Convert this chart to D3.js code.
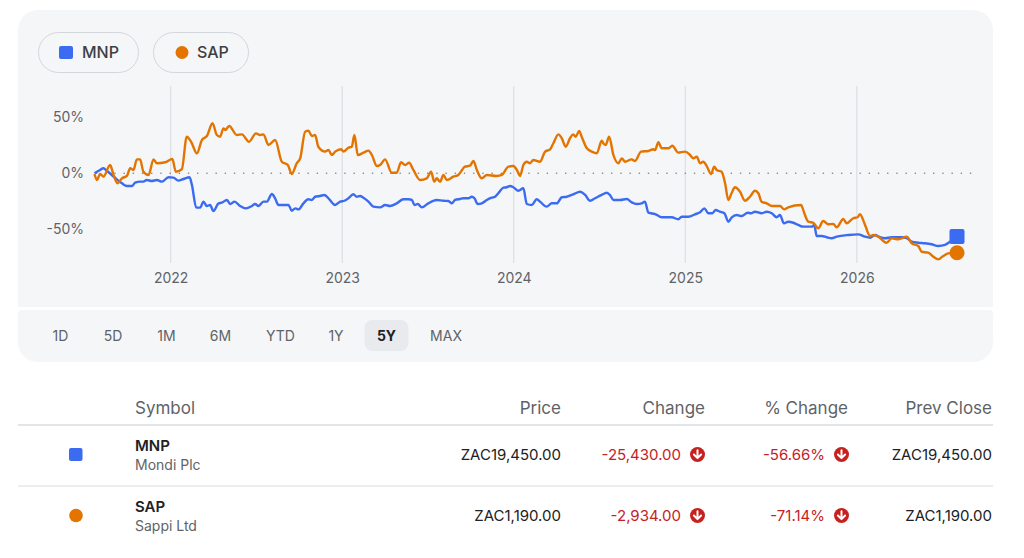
<!DOCTYPE html>
<html>
<head>
<meta charset="utf-8">
<script src="https://cdn.jsdelivr.net/npm/d3@7"></script>
<style>
  html, body { margin: 0; padding: 0; background: #fff; }
  svg { display: block; font-family: Inter, Roboto, "Noto Sans", sans-serif; }
</style>
</head>
<body>
<div id="viz"></div>
<script>
// time as decimal year, values as % change from start
var mnpTime = [2021.556,2021.589,2021.608,2021.628,2021.657,2021.686,2021.716,2021.745,2021.774,2021.793,2021.822,2021.841,2021.861,2021.890,2021.920,2021.949,2021.987,2022.016,2022.045,2022.075,2022.110,2022.124,2022.149,2022.172,2022.191,2022.211,2022.230,2022.249,2022.279,2022.298,2022.328,2022.347,2022.372,2022.405,2022.438,2022.473,2022.492,2022.512,2022.541,2022.561,2022.590,2022.609,2022.628,2022.657,2022.687,2022.706,2022.726,2022.745,2022.774,2022.803,2022.823,2022.842,2022.871,2022.896,2022.920,2022.959,2022.988,2023.013,2023.036,2023.065,2023.085,2023.104,2023.124,2023.153,2023.182,2023.221,2023.250,2023.279,2023.318,2023.357,2023.386,2023.406,2023.421,2023.441,2023.464,2023.502,2023.551,2023.590,2023.619,2023.639,2023.658,2023.687,2023.706,2023.736,2023.755,2023.771,2023.790,2023.814,2023.843,2023.872,2023.891,2023.910,2023.940,2023.959,2023.979,2023.998,2024.027,2024.056,2024.076,2024.105,2024.134,2024.153,2024.192,2024.222,2024.251,2024.280,2024.309,2024.347,2024.387,2024.416,2024.445,2024.474,2024.513,2024.542,2024.561,2024.581,2024.620,2024.659,2024.688,2024.717,2024.746,2024.765,2024.785,2024.824,2024.863,2024.921,2024.959,2024.979,2025.018,2025.057,2025.086,2025.111,2025.134,2025.158,2025.177,2025.202,2025.228,2025.251,2025.271,2025.300,2025.329,2025.364,2025.383,2025.406,2025.445,2025.475,2025.504,2025.533,2025.552,2025.575,2025.600,2025.630,2025.659,2025.688,2025.737,2025.752,2025.766,2025.795,2025.824,2025.853,2025.883,2025.950,2026.008,2026.048,2026.077,2026.106,2026.135,2026.164,2026.203,2026.261,2026.291,2026.320,2026.358,2026.397,2026.436,2026.475,2026.514,2026.543,2026.584];
var mnpPct = [0,3.0,4.5,2.3,-1.5,-5.4,-9.0,-11.4,-11.4,-8.4,-7.5,-7.5,-6.0,-6.9,-6.0,-7.5,-3.6,-3.9,-6.6,-5.1,-3.6,-10.5,-30.8,-30.8,-25.4,-29.3,-28.4,-33.8,-26.9,-26.3,-23.9,-27.5,-25.4,-29.3,-31.4,-29.3,-27.5,-29.3,-25.4,-25.4,-18.5,-22.4,-28.4,-28.4,-28.4,-33.5,-31.4,-32.3,-26.9,-23.3,-23.9,-21.0,-20.3,-19.4,-22.4,-28.4,-25.4,-24.6,-22.4,-18.8,-21.0,-20.3,-21.9,-25.4,-29.9,-30.5,-28.4,-29.3,-26.9,-23.3,-23.3,-23.9,-28.4,-27.5,-30.5,-26.9,-23.9,-24.6,-24.8,-26.9,-23.9,-23.0,-22.4,-22.4,-21.0,-22.4,-27.5,-26.9,-23.9,-21.9,-21.0,-17.9,-12.9,-12.5,-11.4,-12.5,-15.6,-13.4,-27.5,-28.4,-23.3,-25.4,-29.9,-26.9,-26.9,-21.5,-21.0,-18.8,-16.5,-19.4,-24.6,-22.4,-19.4,-17.4,-19.4,-23.9,-23.9,-23.0,-26.0,-27.5,-26.9,-25.4,-35.3,-36.5,-39.4,-39.4,-41.2,-38.9,-38.9,-36.7,-34.9,-31.4,-35.8,-35.8,-32.9,-34.4,-35.8,-43.4,-39.4,-37.4,-38.3,-35.3,-35.8,-34.4,-35.8,-34.4,-35.8,-39.4,-37.4,-44.8,-43.4,-44.3,-46.3,-47.8,-47.8,-46.3,-56.2,-56.2,-57.3,-58.2,-56.8,-55.3,-54.7,-56.8,-57.7,-55.3,-57.3,-58.2,-57.3,-57.3,-58.2,-61.3,-62.2,-62.7,-63.6,-65.1,-64.2,-61.3,-56.66];

var sapTime = [2021.556,2021.570,2021.589,2021.608,2021.647,2021.667,2021.690,2021.716,2021.745,2021.764,2021.783,2021.803,2021.822,2021.841,2021.871,2021.900,2021.920,2021.968,2022.010,2022.030,2022.065,2022.094,2022.119,2022.153,2022.182,2022.211,2022.244,2022.269,2022.288,2022.308,2022.318,2022.341,2022.386,2022.415,2022.457,2022.497,2022.522,2022.541,2022.570,2022.609,2022.648,2022.683,2022.706,2022.735,2022.755,2022.784,2022.803,2022.823,2022.842,2022.861,2022.900,2022.920,2022.939,2022.959,2022.994,2023.007,2023.036,2023.056,2023.071,2023.091,2023.124,2023.153,2023.173,2023.202,2023.221,2023.250,2023.289,2023.318,2023.343,2023.367,2023.390,2023.415,2023.454,2023.493,2023.518,2023.537,2023.551,2023.571,2023.590,2023.610,2023.648,2023.677,2023.716,2023.745,2023.765,2023.785,2023.814,2023.843,2023.901,2023.930,2023.969,2023.998,2024.018,2024.037,2024.056,2024.076,2024.095,2024.114,2024.153,2024.183,2024.212,2024.231,2024.260,2024.280,2024.303,2024.328,2024.347,2024.361,2024.381,2024.396,2024.426,2024.455,2024.484,2024.513,2024.522,2024.536,2024.556,2024.581,2024.610,2024.630,2024.649,2024.688,2024.707,2024.742,2024.785,2024.814,2024.824,2024.843,2024.863,2024.901,2024.924,2024.959,2024.999,2025.028,2025.047,2025.067,2025.086,2025.105,2025.125,2025.150,2025.169,2025.183,2025.212,2025.232,2025.251,2025.271,2025.290,2025.319,2025.348,2025.377,2025.406,2025.426,2025.445,2025.475,2025.504,2025.552,2025.577,2025.600,2025.675,2025.694,2025.717,2025.746,2025.775,2025.804,2025.834,2025.863,2025.883,2025.921,2025.941,2025.979,2026.005,2026.018,2026.048,2026.077,2026.096,2026.125,2026.174,2026.203,2026.242,2026.291,2026.320,2026.358,2026.378,2026.416,2026.446,2026.475,2026.504,2026.533,2026.584];
var sapPct = [-0.6,-6.0,-0.6,-3.0,7.4,-1.5,-9.0,-4.5,-2.4,4.5,3.0,12.5,12.5,1.4,-1.5,12.5,9.0,9.9,12.8,1.4,3.6,32.8,28.3,17.9,29.8,33.4,44.8,34.3,32.8,40.3,38.8,42.4,34.3,34.9,28.3,35.8,34.3,34.9,25.4,29.8,10.4,7.4,-0.6,9.0,13.4,37.3,38.2,33.4,34.3,23.8,19.4,20.9,16.4,19.4,21.5,19.4,22.9,23.8,34.3,16.4,18.5,20.3,16.4,6.5,7.4,12.5,0.5,0.5,9.9,7.4,9.5,3.0,-6.0,-4.5,1.4,-7.5,-4.5,-7.5,-1.5,-6.0,-3.0,-1.5,5.9,6.8,11.0,3.0,-4.5,-1.5,-2.4,-1.5,5.9,6.5,3.0,-2.4,7.4,10.4,9.0,11.9,10.4,19.4,21.5,26.9,34.9,31.4,23.8,31.4,34.9,32.8,37.9,32.8,22.4,19.4,17.9,29.2,26.9,25.4,32.8,16.4,9.0,13.4,10.4,12.5,11.0,19.4,20.0,21.5,20.9,27.8,22.4,22.4,24.7,18.5,19.4,16.4,13.4,14.9,9.0,10.4,6.5,-0.6,5.9,3.0,1.4,-9.0,-23.9,-17.4,-12.5,-16.5,-24.6,-21.0,-15.6,-17.9,-25.4,-26.9,-29.3,-29.3,-32.3,-30.5,-28.4,-35.8,-43.4,-44.3,-49.3,-42.7,-45.7,-45.4,-48.4,-40.9,-44.8,-40.3,-39.4,-36.7,-46.3,-56.2,-55.3,-56.8,-62.2,-58.2,-59.1,-56.8,-62.7,-65.1,-70.3,-71.1,-74.7,-77.1,-74.1,-71.7,-71.14];

var yearTicks = [2022, 2023, 2024, 2025, 2026];
var pctTicks = [-50, 0, 50];
var ranges = ["1D", "5D", "1M", "6M", "YTD", "1Y", "5Y", "MAX"];
var selectedRange = "5Y";

var symbols = ["MNP", "SAP"];
var names = ["Mondi Plc", "Sappi Ltd"];
var prices = ["ZAC19,450.00", "ZAC1,190.00"];
var changes = ["-25,430.00", "-2,934.00"];
var pctChanges = ["-56.66%", "-71.14%"];
var prevCloses = ["ZAC19,450.00", "ZAC1,190.00"];
var headers = ["Symbol", "Price", "Change", "% Change", "Prev Close"];

var blue = "#3a6bf0", orange = "#e37400", red = "#c5221f",
    grey = "#5f6368", dark = "#202124", cardBg = "#f5f6f8";

var width = 1024, height = 558;

var svg = d3.select("#viz").append("svg")
    .attr("width", width)
    .attr("height", height);

// cards
function card(x, y, w, h, rTop, rBot) {
  var p = d3.path();
  p.moveTo(x + rTop, y);
  p.lineTo(x + w - rTop, y);
  p.arcTo(x + w, y, x + w, y + rTop, rTop);
  p.lineTo(x + w, y + h - rBot);
  p.arcTo(x + w, y + h, x + w - rBot, y + h, rBot);
  p.lineTo(x + rBot, y + h);
  p.arcTo(x, y + h, x, y + h - rBot, rBot);
  p.lineTo(x, y + rTop);
  p.arcTo(x, y, x + rTop, y, rTop);
  p.closePath();
  return p.toString();
}
svg.append("path").attr("d", card(18, 10, 975, 297, 20, 0)).attr("fill", cardBg);
svg.append("path").attr("d", card(18, 310, 975, 52, 4, 20)).attr("fill", cardBg);

var x = d3.scaleLinear()
    .domain(d3.extent(mnpTime))
    .range([94.5, 957]);

var y = d3.scaleLinear()
    .domain([-50, 50])
    .range([229.1, 117.5]);

// year gridlines
svg.append("g").selectAll("line")
    .data(yearTicks)
    .enter().append("line")
    .attr("x1", function(d) { return x(d); })
    .attr("x2", function(d) { return x(d); })
    .attr("y1", 86)
    .attr("y2", 263)
    .attr("stroke", "#dcdee2")
    .attr("stroke-width", 1.2);

// x axis labels
var xAxis = svg.append("g")
    .attr("transform", "translate(0,270)")
    .call(d3.axisBottom(x).tickValues(yearTicks).tickFormat(d3.format("d")).tickSize(0));
xAxis.select(".domain").remove();
xAxis.selectAll("text")
    .attr("fill", grey)
    .style("font-size", "14px")
    .style("font-family", "Inter, Roboto, sans-serif");

// y axis labels
var yAxis = svg.append("g")
    .attr("transform", "translate(84,0)")
    .call(d3.axisLeft(y).tickValues(pctTicks).tickFormat(function(d) { return d + "%"; }).tickSize(0).tickPadding(0));
yAxis.select(".domain").remove();
yAxis.selectAll("text")
    .attr("fill", grey)
    .style("font-size", "14px")
    .style("font-family", "Inter, Roboto, sans-serif");

// zero line
svg.append("line")
    .attr("x1", x.range()[0] + 2)
    .attr("x2", 977)
    .attr("y1", y(0))
    .attr("y2", y(0))
    .attr("stroke", "#80868b")
    .attr("stroke-width", 1.6)
    .attr("stroke-linecap", "round")
    .attr("stroke-dasharray", "0.1 9.1");

var line = d3.line()
    .curve(d3.curveMonotoneX)
    .x(function(d) { return x(d[0]); })
    .y(function(d) { return y(d[1]); });

var mnpData = d3.zip(mnpTime, mnpPct);
var sapData = d3.zip(sapTime, sapPct);

svg.append("path")
    .datum(mnpData)
    .attr("fill", "none")
    .attr("stroke", blue)
    .attr("stroke-width", 2.4)
    .attr("stroke-linejoin", "round")
    .attr("d", line);

svg.append("path")
    .datum(sapData)
    .attr("fill", "none")
    .attr("stroke", orange)
    .attr("stroke-width", 2.4)
    .attr("stroke-linejoin", "round")
    .attr("d", line);

var lastM = mnpData[mnpData.length - 1], lastS = sapData[sapData.length - 1];
svg.append("rect")
    .attr("x", x(lastM[0]) - 7.5)
    .attr("y", y(lastM[1]) - 7.5)
    .attr("width", 15)
    .attr("height", 15)
    .attr("rx", 2)
    .attr("fill", blue);
svg.append("circle")
    .attr("cx", x(lastS[0]))
    .attr("cy", y(lastS[1]))
    .attr("r", 7.5)
    .attr("fill", orange);

// legend chips
var chips = [
  {label: "MNP", x: 38, w: 100, shape: "rect", color: blue},
  {label: "SAP", x: 153, w: 95, shape: "circle", color: orange}
];
var chip = svg.append("g").selectAll("g")
    .data(chips)
    .enter().append("g")
    .attr("transform", function(d) { return "translate(" + d.x + ",32)"; });
chip.append("rect")
    .attr("x", 0.5).attr("y", 0.5)
    .attr("width", function(d) { return d.w; })
    .attr("height", 40)
    .attr("rx", 20)
    .attr("fill", cardBg)
    .attr("stroke", "#d3d6db");
chip.filter(function(d) { return d.shape == "rect"; }).append("rect")
    .attr("x", 21).attr("y", 14)
    .attr("width", 14).attr("height", 13)
    .attr("rx", 2)
    .attr("fill", function(d) { return d.color; });
chip.filter(function(d) { return d.shape == "circle"; }).append("circle")
    .attr("cx", 29).attr("cy", 20.5)
    .attr("r", 6.5)
    .attr("fill", function(d) { return d.color; });
chip.append("text")
    .attr("x", 44)
    .attr("y", 20.5)
    .attr("dy", "0.36em")
    .attr("fill", "#3c4043")
    .style("font-size", "16px")
    .style("font-weight", 500)
    .text(function(d) { return d.label; });

// range buttons
var rangeCenters = [60.5, 113, 166.5, 220.5, 280.5, 336, 386.5, 446];
var btn = svg.append("g").selectAll("g")
    .data(ranges)
    .enter().append("g")
    .attr("transform", function(d, i) { return "translate(" + rangeCenters[i] + ",335.5)"; });
btn.filter(function(d) { return d == selectedRange; }).append("rect")
    .attr("x", -22).attr("y", -15.5)
    .attr("width", 44).attr("height", 31)
    .attr("rx", 8)
    .attr("fill", "#e8eaed");
btn.append("text")
    .attr("text-anchor", "middle")
    .attr("dy", "0.36em")
    .attr("fill", function(d) { return d == selectedRange ? dark : grey; })
    .style("font-size", "14px")
    .style("font-weight", function(d) { return d == selectedRange ? 700 : 400; })
    .text(function(d) { return d; });

// table
var headerX = [135, 561, 705, 848, 992];
svg.append("g").selectAll("text")
    .data(headers)
    .enter().append("text")
    .attr("x", function(d, i) { return headerX[i]; })
    .attr("y", 408)
    .attr("dy", "0.36em")
    .attr("text-anchor", function(d, i) { return i == 0 ? "start" : "end"; })
    .attr("fill", grey)
    .style("font-size", "17px")
    .text(function(d) { return d; });

svg.append("line")
    .attr("x1", 18).attr("x2", 993)
    .attr("y1", 425).attr("y2", 425)
    .attr("stroke", "#dadce0").attr("stroke-width", 1.5);
svg.append("line")
    .attr("x1", 18).attr("x2", 993)
    .attr("y1", 486).attr("y2", 486)
    .attr("stroke", "#dadce0").attr("stroke-width", 1);

var rowY = [454.5, 515.5];
var rows = svg.append("g").selectAll("g")
    .data(symbols)
    .enter().append("g")
    .attr("transform", function(d, i) { return "translate(0," + rowY[i] + ")"; });

rows.each(function(d, i) {
  var g = d3.select(this);
  if (i == 0) {
    g.append("rect").attr("x", 69).attr("y", -6.5).attr("width", 13.5).attr("height", 13)
      .attr("rx", 2).attr("fill", blue);
  } else {
    g.append("circle").attr("cx", 76).attr("cy", 0).attr("r", 6.8).attr("fill", orange);
  }
  g.append("text").attr("x", 135).attr("y", -9).attr("dy", "0.36em")
    .attr("fill", dark).style("font-size", "15px").style("font-weight", 600).text(symbols[i]);
  g.append("text").attr("x", 135).attr("y", 10).attr("dy", "0.36em")
    .attr("fill", grey).style("font-size", "14px").text(names[i]);
  g.append("text").attr("x", 561).attr("y", 0).attr("dy", "0.36em").attr("text-anchor", "end")
    .attr("fill", dark).style("font-size", "15px").text(prices[i]);
  g.append("text").attr("x", 681).attr("y", 0).attr("dy", "0.36em").attr("text-anchor", "end")
    .attr("fill", red).style("font-size", "15px").text(changes[i]);
  g.append("text").attr("x", 825).attr("y", 0).attr("dy", "0.36em").attr("text-anchor", "end")
    .attr("fill", red).style("font-size", "15px").text(pctChanges[i]);
  g.append("text").attr("x", 992).attr("y", 0).attr("dy", "0.36em").attr("text-anchor", "end")
    .attr("fill", dark).style("font-size", "15px").text(prevCloses[i]);
  [697.5, 841.5].forEach(function(cx) {
    var ic = g.append("g").attr("transform", "translate(" + cx + ",0)");
    ic.append("circle").attr("r", 7.5).attr("fill", red);
    ic.append("path").attr("d", "M0,-4.2V3.6M-3.6,0L0,3.6L3.6,0")
      .attr("fill", "none").attr("stroke", "#fff").attr("stroke-width", 2)
      .attr("stroke-linecap", "round").attr("stroke-linejoin", "round");
  });
});
</script>
</body>
</html>
